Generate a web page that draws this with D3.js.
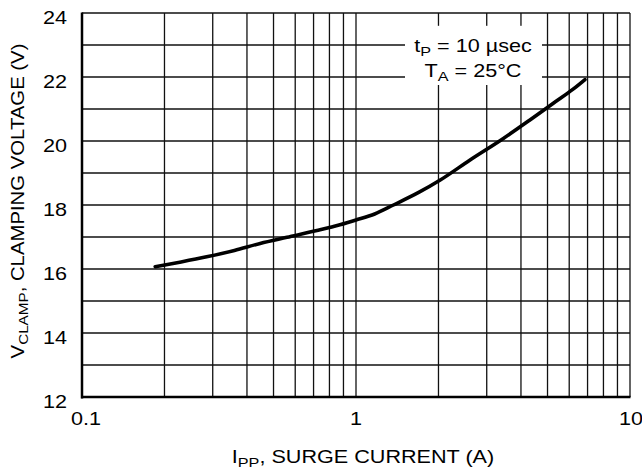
<!DOCTYPE html>
<html><head><meta charset="utf-8">
<script src="https://cdn.jsdelivr.net/npm/d3@7"></script>
<style>
html,body{margin:0;padding:0;background:#fff;}
text{font-family:Arial,"Liberation Sans",sans-serif;fill:#000;}
</style></head>
<body><svg id="c" width="642" height="471"></svg>
<script>
// Data
const ipp = [0.185, 0.23, 0.285, 0.36, 0.447, 0.56, 0.72, 0.874, 1.0, 1.17, 1.37, 1.7, 2.03, 2.6, 3.45, 4.3, 5.25, 6.2, 6.85];
const vclamp = [16.07, 16.22, 16.38, 16.58, 16.8, 16.99, 17.2, 17.38, 17.53, 17.72, 18.0, 18.4, 18.78, 19.4, 20.08, 20.65, 21.18, 21.62, 21.92];
const xTickLabels = ["0.1", "1", "10"];
const xTickValues = [0.1, 1, 10];
const yTickValues = [12, 14, 16, 18, 20, 22, 24];
const xGridValues = [0.2,0.3,0.4,0.5,0.6,0.7,0.8,0.9,1,2,3,4,5,6,7,8,9,10];
const yGridValues = [13,14,15,16,17,18,19,20,21,22,23,24];

const L = 82, R = 630, T = 13, B = 397;
const svg = d3.select("#c");
const x = d3.scaleLog().domain([0.1, 10]).range([L, R]);
const y = d3.scaleLinear().domain([12, 24]).range([B, T]);

// text helper: parts = [[string, isSub], ...]
function label(px, py, anchor, parts, rot, sx) {
  sx = sx || 1.2;
  const g = svg.append("g").attr("transform", `translate(${px},${py})` + (rot ? ` rotate(${rot})` : "") + ` scale(${sx},1)`);
  const t = g.append("text").attr("text-anchor", anchor).attr("font-size", 18);
  let prevSub = false;
  parts.forEach(([s, sub]) => {
    const ts = t.append("tspan").text(s);
    if (sub && !prevSub) ts.attr("font-size", 13.5).attr("dy", 3.5);
    if (!sub && prevSub) ts.attr("dy", -3.5);
    prevSub = sub;
  });
  return t;
}

const g = svg.append("g");
// grid
g.selectAll(".vg").data(xGridValues).enter().append("line")
  .attr("x1", d => x(d)).attr("x2", d => x(d)).attr("y1", T).attr("y2", B)
  .attr("stroke", "#111").attr("stroke-width", 1.3);
g.selectAll(".hg").data(yGridValues).enter().append("line")
  .attr("x1", L).attr("x2", R).attr("y1", d => y(d)).attr("y2", d => y(d))
  .attr("stroke", "#111").attr("stroke-width", 1.3);

// annotation box (white background)
const boxX0 = 405, boxX1 = 542;
svg.append("rect").attr("x", boxX0).attr("y", y(23.6)).attr("width", boxX1 - boxX0)
  .attr("height", y(21.75) - y(23.6)).attr("fill", "#fff");

// axes (thick left & bottom)
svg.append("line").attr("x1", L).attr("x2", L).attr("y1", T - 0.5).attr("y2", B + 1.5)
  .attr("stroke", "#000").attr("stroke-width", 2.5);
svg.append("line").attr("x1", L - 1).attr("x2", R + 0.5).attr("y1", B).attr("y2", B)
  .attr("stroke", "#000").attr("stroke-width", 2.5);

// curve
const line = d3.line().x(d => x(d[0])).y(d => y(d[1])).curve(d3.curveMonotoneX);
svg.append("path").datum(ipp.map((v, i) => [v, vclamp[i]]))
  .attr("d", line).attr("fill", "none").attr("stroke", "#000")
  .attr("stroke-width", 3.6).attr("stroke-linecap", "round");

// tick labels
yTickValues.forEach(v => label(67, y(v) + 11, "end", [[String(v), false]]));
xTickValues.forEach((v, i) => label(x(v) + (i === 0 ? 4 : (i === 2 ? 1 : 0)), 425, "middle", [[xTickLabels[i], false]]));

// annotation
label(473, 52, "middle", [["t", false], ["P", true], [" = 10 \u00b5sec", false]]);
label(473, 77, "middle", [["T", false], ["A", true], [" = 25\u00b0C", false]]);

// axis titles
label(363, 463, "middle", [["I", false], ["PP", true], [", SURGE CURRENT (A)", false]]);
label(24, 201, "middle", [["V", false], ["CLAMP", true], [", CLAMPING VOLTAGE (V)", false]], -90, 1.13);
</script></body></html>
